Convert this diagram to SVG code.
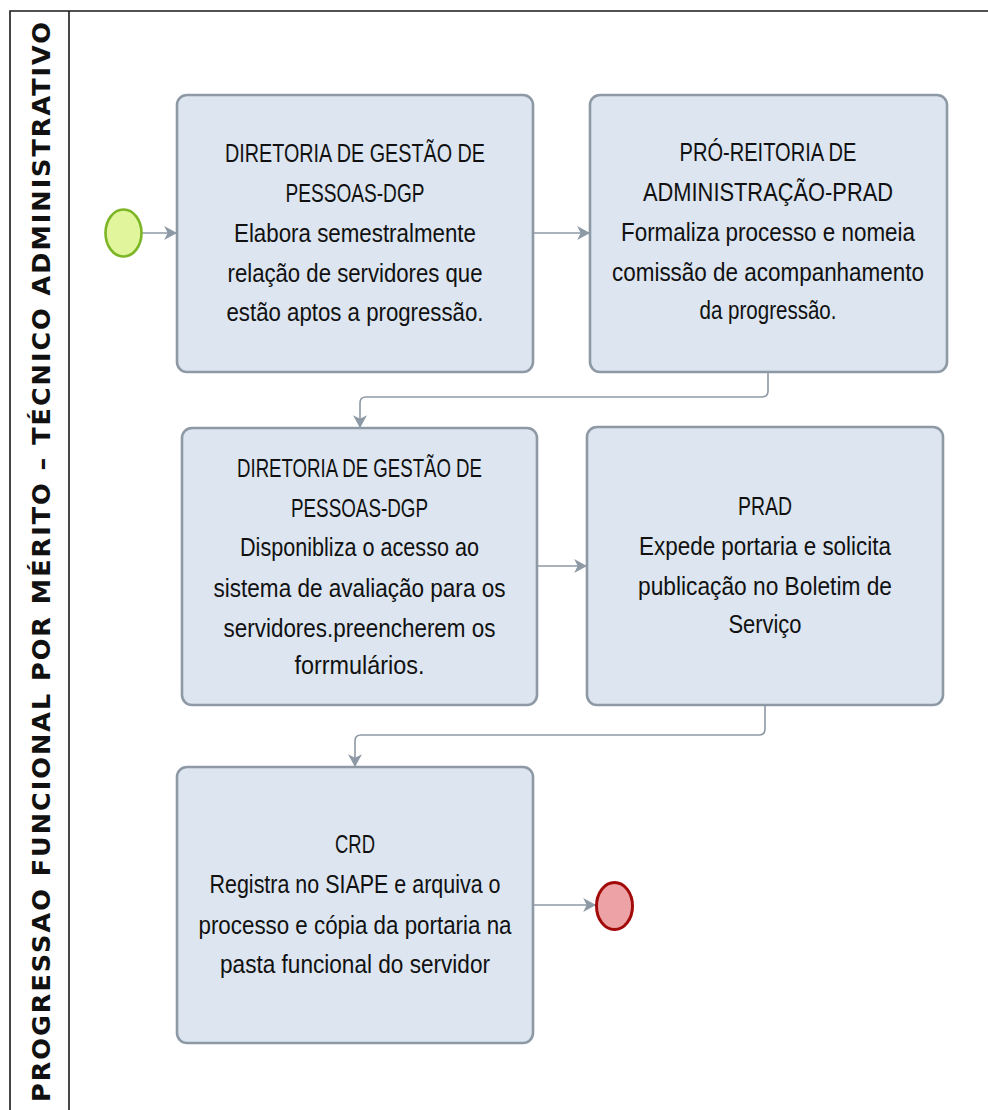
<svg xmlns="http://www.w3.org/2000/svg" width="988" height="1110" viewBox="0 0 988 1110">
<style>
.frame{stroke:#1a1a1a;stroke-width:1.6;fill:none}
.box{fill:#dce5f0;stroke:#8e99a6;stroke-width:2.6}
.lbl{font-family:"Liberation Sans",Arial,sans-serif;font-size:25px;fill:#111;text-anchor:middle}
.conn{fill:none;stroke:#8e99a6;stroke-width:1.6}
.title{font-family:"DejaVu Sans",Verdana,sans-serif;font-weight:bold;font-size:25.5px;fill:#111;text-anchor:middle}
</style>
<defs>
<marker id="arr" markerUnits="userSpaceOnUse" markerWidth="14" markerHeight="14" viewBox="0 0 12 12" refX="11" refY="6" orient="auto">
<path d="M0,0 L11,6 L0,12 L3,6 Z" fill="#8e99a6"/>
</marker>
</defs>
<rect width="988" height="1110" fill="#ffffff"/>
<g id="lane">
<path class="frame" d="M10,1110 V11 H988 M69,11 V1110"/>
<text class="title" transform="translate(50,562) rotate(-90)" x="0" y="0" textLength="1080" lengthAdjust="spacing">PROGRESSAO  FUNCIONAL  POR  MÉRITO  –  TÉCNICO   ADMINISTRATIVO</text>
</g>
<g id="connectors">
<path class="conn" d="M142,233 H177" marker-end="url(#arr)"/>
<path class="conn" d="M533,233 H590" marker-end="url(#arr)"/>
<path class="conn" d="M768,372 V391 Q768,397 762,397 H366 Q360,397 360,403 V428" marker-end="url(#arr)"/>
<path class="conn" d="M537,566 H587" marker-end="url(#arr)"/>
<path class="conn" d="M765,705 V729 Q765,735 759,735 H361 Q355,735 355,741 V767" marker-end="url(#arr)"/>
<path class="conn" d="M533,905 H596" marker-end="url(#arr)"/>
</g>
<g id="start">
<ellipse cx="123.5" cy="233" rx="18" ry="23.5" fill="#e1f59c" stroke="#7cb526" stroke-width="2.6"/>
</g>
<g id="end">
<ellipse cx="614.5" cy="906" rx="18" ry="23.5" fill="#eda3a5" stroke="#a30a0a" stroke-width="3"/>
</g>
<g id="task1">
<rect class="box" x="177" y="95" width="356" height="277" rx="10"/>
<text class="lbl"><tspan x="355" y="162" textLength="260" lengthAdjust="spacingAndGlyphs">DIRETORIA DE GESTÃO DE</tspan><tspan x="355" y="202" textLength="139" lengthAdjust="spacingAndGlyphs">PESSOAS-DGP</tspan><tspan x="355" y="242" textLength="242" lengthAdjust="spacingAndGlyphs">Elabora semestralmente</tspan><tspan x="355" y="282" textLength="255" lengthAdjust="spacingAndGlyphs">relação de servidores que</tspan><tspan x="355" y="321" textLength="257" lengthAdjust="spacingAndGlyphs">estão aptos a progressão.</tspan></text>
</g>
<g id="task2">
<rect class="box" x="590" y="95" width="357" height="277" rx="10"/>
<text class="lbl"><tspan x="768" y="161" textLength="177" lengthAdjust="spacingAndGlyphs">PRÓ-REITORIA DE</tspan><tspan x="768" y="201" textLength="250" lengthAdjust="spacingAndGlyphs">ADMINISTRAÇÃO-PRAD</tspan><tspan x="768" y="241" textLength="294" lengthAdjust="spacingAndGlyphs">Formaliza processo e nomeia</tspan><tspan x="768" y="281" textLength="312" lengthAdjust="spacingAndGlyphs">comissão de acompanhamento</tspan><tspan x="768" y="319" textLength="137" lengthAdjust="spacingAndGlyphs">da progressão.</tspan></text>
</g>
<g id="task3">
<rect class="box" x="182" y="428" width="355" height="277" rx="10"/>
<text class="lbl"><tspan x="359.5" y="477" textLength="245" lengthAdjust="spacingAndGlyphs">DIRETORIA DE GESTÃO DE</tspan><tspan x="359.5" y="517" textLength="137" lengthAdjust="spacingAndGlyphs">PESSOAS-DGP</tspan><tspan x="359.5" y="556" textLength="239" lengthAdjust="spacingAndGlyphs">Disponibliza o acesso ao</tspan><tspan x="359.5" y="597" textLength="292" lengthAdjust="spacingAndGlyphs">sistema de avaliação  para os</tspan><tspan x="359.5" y="637" textLength="272" lengthAdjust="spacingAndGlyphs">servidores.preencherem os</tspan><tspan x="359.5" y="674" textLength="130" lengthAdjust="spacingAndGlyphs">forrmulários.</tspan></text>
</g>
<g id="task4">
<rect class="box" x="587" y="427" width="356" height="278" rx="10"/>
<text class="lbl"><tspan x="765" y="515" textLength="54" lengthAdjust="spacingAndGlyphs">PRAD</tspan><tspan x="765" y="555" textLength="252" lengthAdjust="spacingAndGlyphs">Expede portaria e solicita</tspan><tspan x="765" y="595" textLength="254" lengthAdjust="spacingAndGlyphs">publicação no Boletim de</tspan><tspan x="765" y="633" textLength="73" lengthAdjust="spacingAndGlyphs">Serviço</tspan></text>
</g>
<g id="task5">
<rect class="box" x="177" y="767" width="356" height="276" rx="10"/>
<text class="lbl"><tspan x="355" y="853" textLength="40" lengthAdjust="spacingAndGlyphs">CRD</tspan><tspan x="355" y="893" textLength="291" lengthAdjust="spacingAndGlyphs">Registra no SIAPE e arquiva o</tspan><tspan x="355" y="934" textLength="313" lengthAdjust="spacingAndGlyphs">processo e cópia da portaria na</tspan><tspan x="355" y="973" textLength="270" lengthAdjust="spacingAndGlyphs">pasta funcional do servidor</tspan></text>
</g>
</svg>
